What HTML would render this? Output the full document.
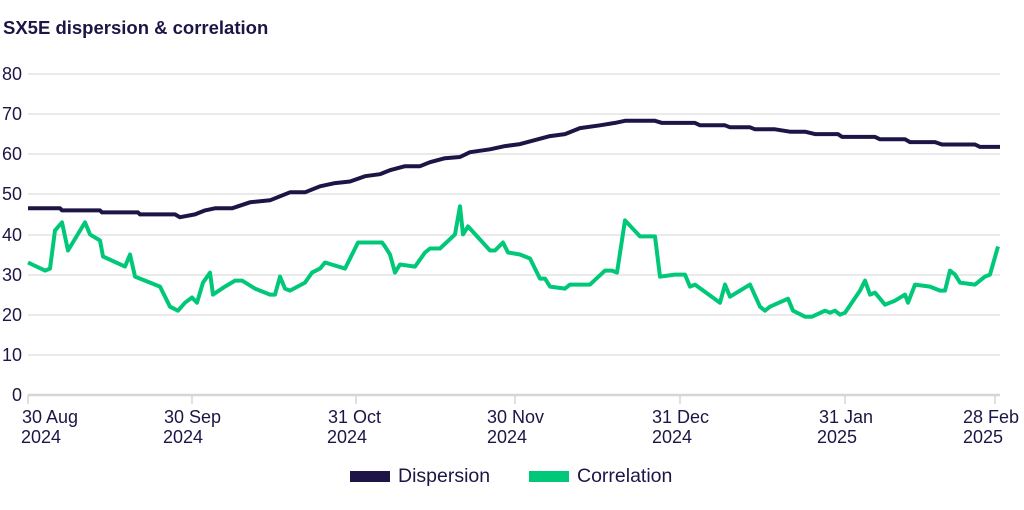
<!DOCTYPE html>
<html><head><meta charset="utf-8"><style>
body{margin:0;background:#fff;width:1024px;height:505px;overflow:hidden;font-family:"Liberation Sans",sans-serif}
</style></head><body>
<svg id="s" width="1024" height="505" xmlns="http://www.w3.org/2000/svg" font-family="Liberation Sans, sans-serif" fill="#1e1546">
<text x="3" y="34" font-size="18.5" font-weight="bold">SX5E dispersion &amp; correlation</text>
<g stroke="#dedede" stroke-width="1.3">
<line x1="28" x2="1000" y1="74" y2="74"/><line x1="28" x2="1000" y1="114" y2="114"/>
<line x1="28" x2="1000" y1="154" y2="154"/><line x1="28" x2="1000" y1="194" y2="194"/>
<line x1="28" x2="1000" y1="235" y2="235"/><line x1="28" x2="1000" y1="275" y2="275"/>
<line x1="28" x2="1000" y1="315" y2="315"/><line x1="28" x2="1000" y1="355" y2="355"/>
</g>
<line x1="28" x2="1000" y1="395" y2="395" stroke="#d6d6d6" stroke-width="2.5"/>
<g stroke="#d6d6d6" stroke-width="1.5">
<line x1="28" x2="28" y1="395" y2="404"/><line x1="192" x2="192" y1="395" y2="404"/>
<line x1="356" x2="356" y1="395" y2="404"/><line x1="515" x2="515" y1="395" y2="404"/>
<line x1="680" x2="680" y1="395" y2="404"/><line x1="845" x2="845" y1="395" y2="404"/>
<line x1="995" x2="995" y1="395" y2="404"/>
</g>
<g font-size="18" text-anchor="end">
<text x="22" y="80">80</text><text x="22" y="120">70</text><text x="22" y="160">60</text>
<text x="22" y="200">50</text><text x="22" y="241">40</text><text x="22" y="281">30</text>
<text x="22" y="321">20</text><text x="22" y="361">10</text><text x="22" y="401">0</text>
</g>
<g font-size="18">
<text x="22" y="423">30 Aug</text><text x="21" y="443">2024</text>
<text x="164" y="423">30 Sep</text><text x="163" y="443">2024</text>
<text x="328" y="423">31 Oct</text><text x="327" y="443">2024</text>
<text x="487" y="423">30 Nov</text><text x="487" y="443">2024</text>
<text x="652" y="423">31 Dec</text><text x="652" y="443">2024</text>
<text x="819" y="423">31 Jan</text><text x="817" y="443">2025</text>
<text x="963" y="423">28 Feb</text><text x="963" y="443">2025</text>
</g>
<polyline id="d" fill="none" stroke="#1e1546" stroke-width="4" stroke-linejoin="round"/>
<polyline id="c" fill="none" stroke="#00c878" stroke-width="4" stroke-linejoin="round"/>
<rect x="350" y="471" width="40" height="11" fill="#1e1546"/>
<text x="398" y="482" font-size="19.5">Dispersion</text>
<rect x="529" y="471" width="40" height="11" fill="#00c878"/>
<text x="577" y="482" font-size="19.5">Correlation</text>
</svg>
<script>
var D=[28,46.5,60,46.5,62,46,100,46,102,45.5,138,45.5,140,45,175,45,180,44.3,195,45,205,46,215,46.5,232,46.5,250,48,270,48.5,280,49.5,290,50.5,305,50.5,320,52,335,52.8,350,53.2,365,54.5,380,55,390,56,405,57,420,57,430,58,445,59,460,59.3,470,60.5,490,61.2,505,62,520,62.5,535,63.5,550,64.5,565,65,580,66.5,600,67.2,615,67.8,625,68.3,655,68.3,662,67.8,695,67.8,700,67.2,725,67.2,730,66.7,750,66.7,755,66.2,775,66.2,790,65.6,805,65.6,815,65,838,65,842,64.3,875,64.3,880,63.7,905,63.7,910,63,935,63,942,62.4,975,62.4,980,61.8,1000,61.8];
var C=[28,33,45,31,50,31.5,55,41,62,43,68,36,85,43,90,40,100,38.5,103,34.5,125,32,130,35,135,29.5,160,27,170,22,178,21,185,23,192,24.3,197,23,203,28,210,30.5,213,25,225,27,235,28.5,242,28.5,255,26.5,270,25,275,25,280,29.5,285,26.5,290,26,305,28,312,30.5,320,31.5,325,33,345,31.5,358,38,382,38,385,37,390,35,395,30.5,400,32.5,415,32,425,35.5,430,36.5,440,36.5,455,40,460,47,463,40,468,42,490,36,495,36,503,38,508,35.5,520,35,530,34,540,29,545,29,550,27,565,26.5,570,27.5,590,27.5,605,31,612,31,617,30.5,625,43.5,640,39.5,655,39.5,660,29.5,675,30,685,30,690,27,695,27.5,720,23,725,27.5,730,24.5,750,27.5,760,22,765,21,770,22,788,24,793,21,805,19.5,812,19.5,825,21,830,20.5,835,21,840,20,845,20.5,860,26,865,28.5,870,25,875,25.5,885,22.5,895,23.5,905,25,908,23,915,27.5,930,27,940,26,945,26,950,31,955,30,960,28,975,27.5,985,29.5,990,30,998,37];
function p(a){var s=[];for(var i=0;i<a.length;i+=2)s.push(a[i]+','+(395-a[i+1]*4.014).toFixed(1));return s.join(' ');}
document.getElementById('d').setAttribute('points',p(D));
document.getElementById('c').setAttribute('points',p(C));
</script>
</body></html>
